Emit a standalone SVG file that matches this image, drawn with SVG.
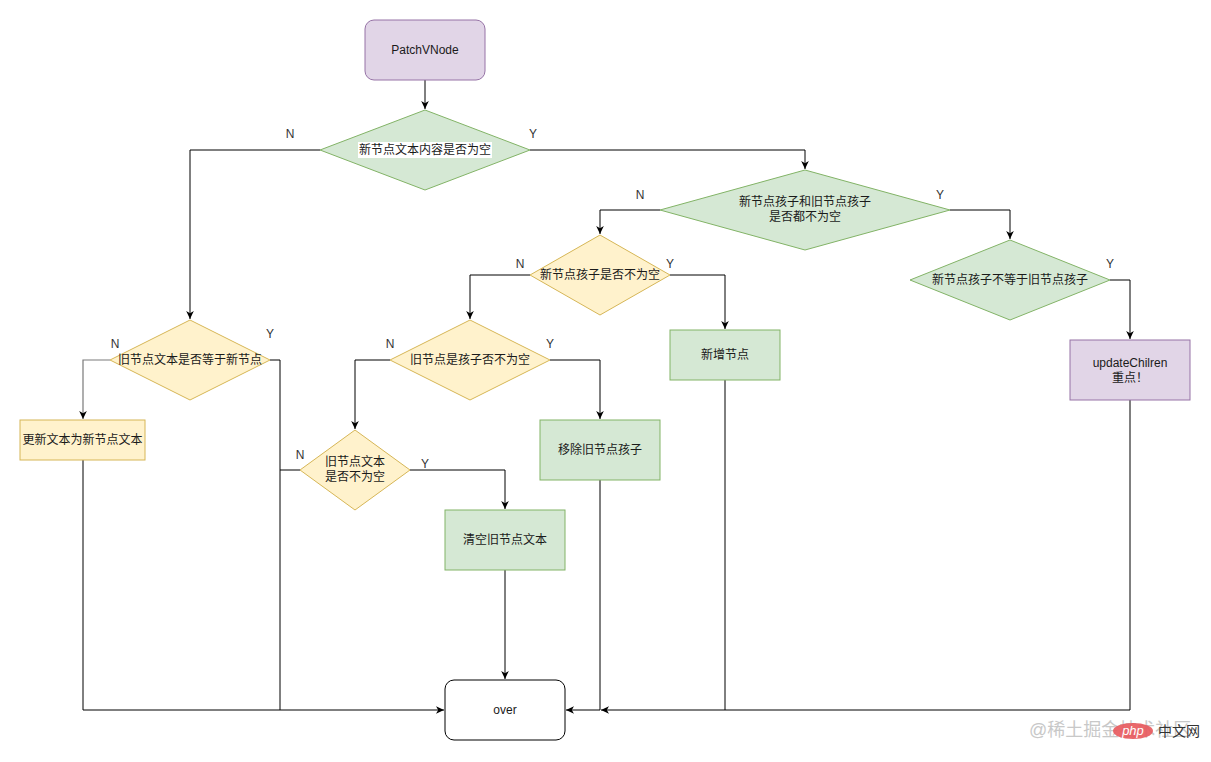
<svg xmlns="http://www.w3.org/2000/svg" width="1211" height="762" viewBox="0 0 1211 762">
<style>
.t{font-family:"Liberation Sans","Noto Sans CJK SC",sans-serif;font-size:12px;fill:#1a1a1a;text-anchor:middle;dominant-baseline:central}
.l{font-family:"Liberation Sans","Noto Sans CJK SC",sans-serif;font-size:12px;fill:#333;text-anchor:middle;dominant-baseline:central}
.g{fill:#d5e8d4;stroke:#82b366;stroke-width:1}
.y{fill:#fff2cc;stroke:#d6b656;stroke-width:1}
.p{fill:#e1d5e7;stroke:#9673a6;stroke-width:1}
.e{fill:none;stroke:#000;stroke-width:1}
</style>
<defs>
<marker id="a" viewBox="0 0 10 10" markerWidth="10" markerHeight="10" markerUnits="userSpaceOnUse" refX="9" refY="5" orient="auto">
<path d="M1,1.2 L9,5 L1,8.8 L3.2,5 Z" fill="#000"/>
</marker>
</defs>
<rect width="1211" height="762" fill="#fff"/>
<g id="edges">
<path class="e" d="M425,80 V109" marker-end="url(#a)"/>
<path class="e" d="M320,150 H190 V319" marker-end="url(#a)"/>
<path class="e" d="M530,150 H805 V169" marker-end="url(#a)"/>
<path class="e" d="M660,210 H600 V234" marker-end="url(#a)"/>
<path class="e" d="M950,210 H1010 V239" marker-end="url(#a)"/>
<path class="e" d="M1110,280 H1130 V339" marker-end="url(#a)"/>
<path class="e" d="M530,275 H470 V319" marker-end="url(#a)"/>
<path class="e" d="M670,275 H725 V329" marker-end="url(#a)"/>
<path class="e" d="M550,360 H600 V419" marker-end="url(#a)"/>
<path class="e" d="M390,360 H355 V429" marker-end="url(#a)"/>
<path class="e" d="M410,470 H505 V509" marker-end="url(#a)"/>
<path d="M110,360 H83 V419" fill="none" stroke="#7a7a7a" stroke-width="1.2" marker-end="url(#a)"/>
<path class="e" d="M83,460 V710 H444" marker-end="url(#a)"/>
<path class="e" d="M270,360 H280 V710"/>
<path class="e" d="M300,470 H280"/>
<path class="e" d="M505,570 V679" marker-end="url(#a)"/>
<path class="e" d="M600,480 V710 H566" marker-end="url(#a)"/>
<path class="e" d="M725,380 V710"/>
<path class="e" d="M1130,400 V710 H601" marker-end="url(#a)"/>
<text class="l" x="290" y="134">N</text>
<text class="l" x="533" y="134">Y</text>
<text class="l" x="640" y="195">N</text>
<text class="l" x="940" y="195">Y</text>
<text class="l" x="520" y="264">N</text>
<text class="l" x="670" y="264">Y</text>
<text class="l" x="1110" y="264">Y</text>
<text class="l" x="115" y="344">N</text>
<text class="l" x="270" y="334">Y</text>
<text class="l" x="390" y="344">N</text>
<text class="l" x="550" y="344">Y</text>
<text class="l" x="300" y="455">N</text>
<text class="l" x="425" y="464">Y</text>
</g>
<g id="patch"><rect class="p" x="365" y="20" width="120" height="60" rx="9"/><text class="t" x="425" y="50">PatchVNode</text></g>
<g id="d1"><polygon class="g" points="425,110 530,150 425,190 320,150"/><rect x="358" y="142" width="134" height="16" fill="#fff"/><text class="t" x="425" y="150">新节点文本内容是否为空</text></g>
<g id="d3"><polygon class="g" points="805,170 950,210 805,250 660,210"/><text class="t" x="805" y="202">新节点孩子和旧节点孩子</text><text class="t" x="805" y="217">是否都不为空</text></g>
<g id="d4"><polygon class="y" points="600,235 670,275 600,315 530,275"/><text class="t" x="600" y="275">新节点孩子是否不为空</text></g>
<g id="d5"><polygon class="g" points="1010,240 1110,280 1010,320 910,280"/><text class="t" x="1010" y="280">新节点孩子不等于旧节点孩子</text></g>
<g id="upd"><rect class="p" x="1070" y="340" width="120" height="60"/><text class="t" x="1130" y="363">updateChilren</text><text class="t" x="1130" y="378">重点！</text></g>
<g id="d2"><polygon class="y" points="190,320 270,360 190,400 110,360"/><text class="t" x="190" y="360">旧节点文本是否等于新节点</text></g>
<g id="upt"><rect class="y" x="20" y="420" width="125" height="40"/><text class="t" x="82.5" y="440">更新文本为新节点文本</text></g>
<g id="d6"><polygon class="y" points="470,320 550,360 470,400 390,360"/><text class="t" x="470" y="360">旧节点是孩子否不为空</text></g>
<g id="add"><rect class="g" x="670" y="330" width="110" height="50"/><text class="t" x="725" y="355">新增节点</text></g>
<g id="rm"><rect class="g" x="540" y="420" width="120" height="60"/><text class="t" x="600" y="450">移除旧节点孩子</text></g>
<g id="d7"><polygon class="y" points="355,430 410,470 355,510 300,470"/><text class="t" x="355" y="462">旧节点文本</text><text class="t" x="355" y="477">是否不为空</text></g>
<g id="clr"><rect class="g" x="445" y="510" width="120" height="60"/><text class="t" x="505" y="540">清空旧节点文本</text></g>
<g id="over"><rect x="445" y="680" width="120" height="60" rx="9" fill="#fff" stroke="#000"/><text class="t" x="505" y="710">over</text></g>
<g id="watermark">
<text x="1029" y="736" font-family="Liberation Sans,Noto Sans CJK SC,sans-serif" font-size="18" fill="#c8c8c8">@稀土掘金技术社区</text>
<ellipse cx="1133" cy="731" rx="20" ry="8" fill="#e8585c" opacity="0.9"/>
<text x="1133" y="735" font-family="Liberation Sans,sans-serif" font-size="13" font-style="italic" fill="#fff" text-anchor="middle">php</text>
<text x="1158" y="736" font-family="Noto Sans CJK SC,sans-serif" font-size="14" fill="#333">中文网</text>
</g>
</svg>
